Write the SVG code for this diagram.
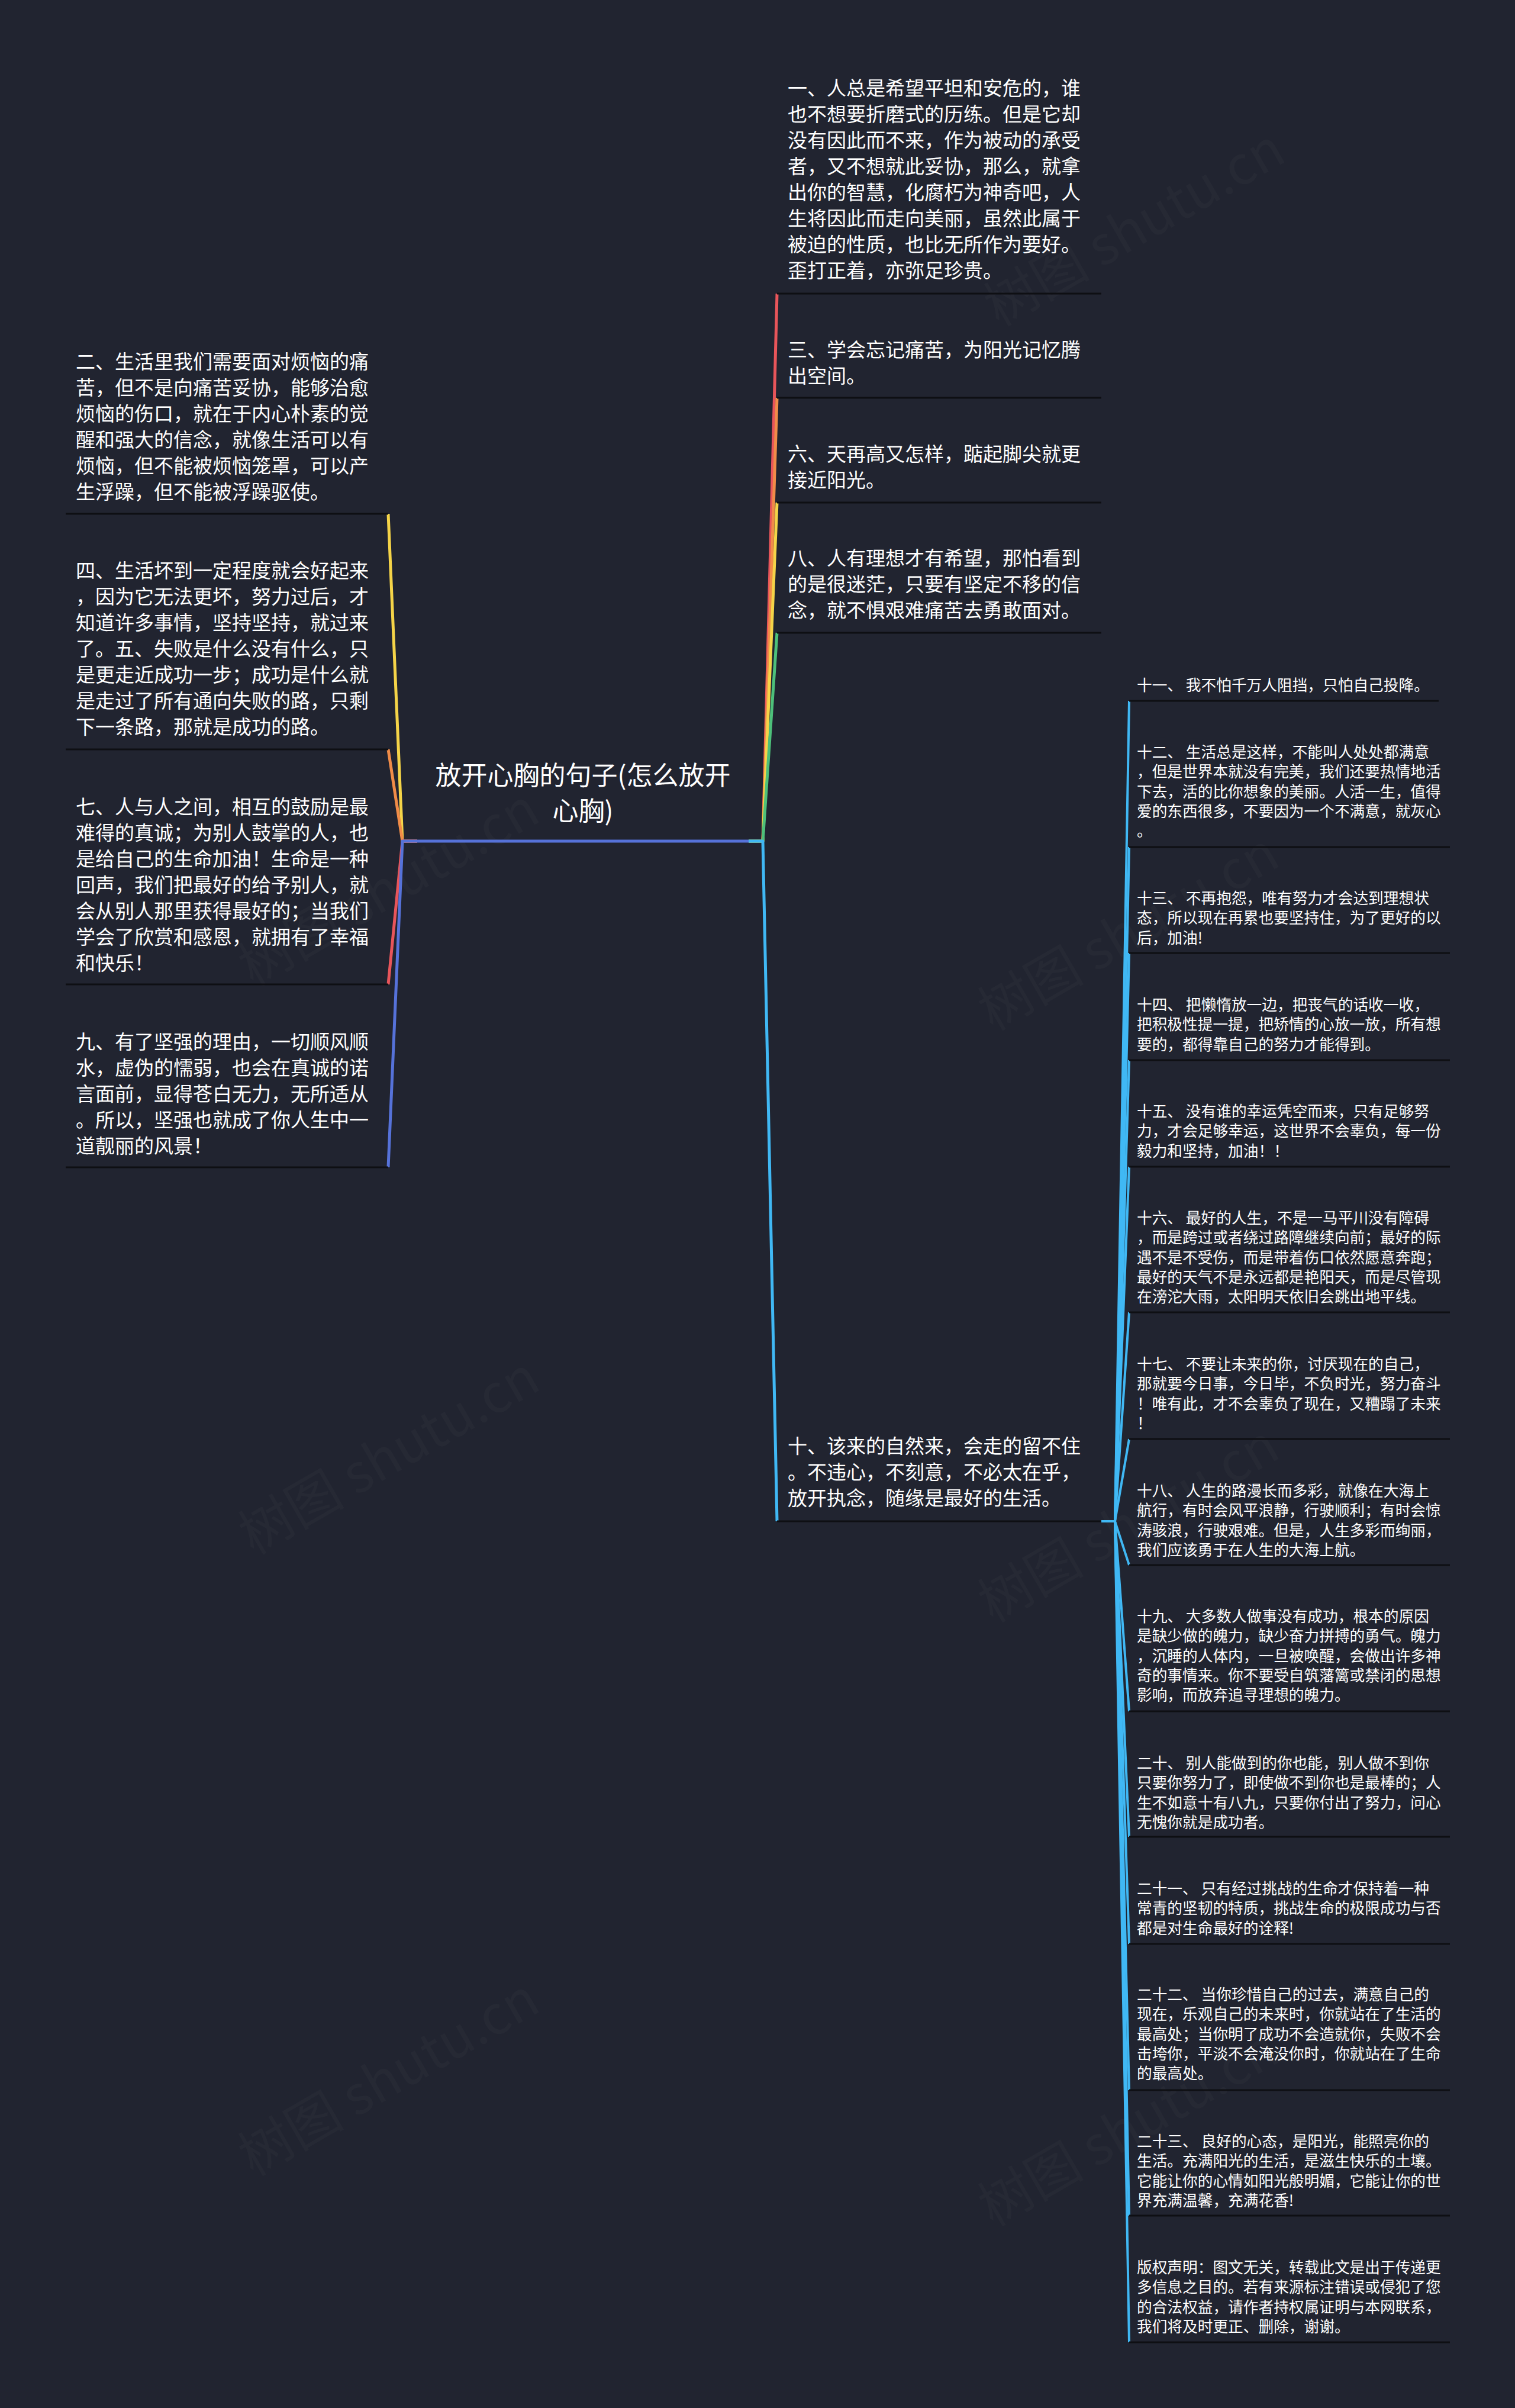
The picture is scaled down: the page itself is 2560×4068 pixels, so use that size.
<svg xmlns="http://www.w3.org/2000/svg" width="2560" height="4068" viewBox="0 0 2560 4068">
<style>
.t{font-family:"Noto Sans CJK SC","Noto Sans",sans-serif;fill:#ffffff}
.m{font-size:33px}
.s{font-size:25.7px}
.c{font-size:44px}
.u{stroke:#0e0f13;stroke-width:3;fill:none}
.k{fill:none;stroke-width:5;stroke-linejoin:round}
.ks{fill:none;stroke:#40b8f4;stroke-width:4;stroke-linejoin:round}
.w{font-family:"Noto Sans CJK SC","Noto Sans",sans-serif;font-size:90px;fill:#ffffff;fill-opacity:0.025}
</style>
<rect x="0" y="0" width="2560" height="4068" fill="#212430"/>
<g id="watermarks">
<text class="w" x="660" y="1530" text-anchor="middle" transform="rotate(-30 660 1505)">树图 shutu.cn</text>
<text class="w" x="660" y="2490" text-anchor="middle" transform="rotate(-30 660 2464)">树图 shutu.cn</text>
<text class="w" x="660" y="3540" text-anchor="middle" transform="rotate(-30 660 3515)">树图 shutu.cn</text>
<text class="w" x="1920" y="415" text-anchor="middle" transform="rotate(-30 1920 390)">树图 shutu.cn</text>
<text class="w" x="1910" y="1605" text-anchor="middle" transform="rotate(-30 1910 1580)">树图 shutu.cn</text>
<text class="w" x="1910" y="2605" text-anchor="middle" transform="rotate(-30 1910 2580)">树图 shutu.cn</text>
<text class="w" x="1910" y="3625" text-anchor="middle" transform="rotate(-30 1910 3600)">树图 shutu.cn</text>
</g>
<g id="connectors">
<path class="k" stroke="#5672d9" d="M680 1421 H1289"/>
<path class="k" stroke="#e8555a" d="M1265 1421 H1289 L1313 496"/>
<path class="k" stroke="#f08c48" d="M1265 1421 H1289 L1313 672"/>
<path class="k" stroke="#f5d448" d="M1265 1421 H1289 L1313 849"/>
<path class="k" stroke="#4dc07a" d="M1265 1421 H1289 L1313 1069"/>
<path class="k" stroke="#f5d448" d="M705 1421 H680 L656 868"/>
<path class="k" stroke="#f08c48" d="M705 1421 H680 L656 1266"/>
<path class="k" stroke="#e8555a" d="M705 1421 H680 L656 1663"/>
<path class="k" stroke="#5672d9" d="M705 1421 H680 L656 1972"/>
<path class="k" stroke="#40b8f4" d="M1265 1421 H1289 L1313 2570"/>
<path class="ks" d="M1861 2570 H1884 L1908 1184"/>
<path class="ks" d="M1861 2570 H1884 L1908 1431"/>
<path class="ks" d="M1861 2570 H1884 L1908 1610"/>
<path class="ks" d="M1861 2570 H1884 L1908 1791"/>
<path class="ks" d="M1861 2570 H1884 L1908 1971"/>
<path class="ks" d="M1861 2570 H1884 L1908 2217"/>
<path class="ks" d="M1861 2570 H1884 L1908 2431"/>
<path class="ks" d="M1861 2570 H1884 L1908 2644"/>
<path class="ks" d="M1861 2570 H1884 L1908 2891"/>
<path class="ks" d="M1861 2570 H1884 L1908 3103"/>
<path class="ks" d="M1861 2570 H1884 L1908 3284"/>
<path class="ks" d="M1861 2570 H1884 L1908 3531"/>
<path class="ks" d="M1861 2570 H1884 L1908 3743"/>
<path class="ks" d="M1861 2570 H1884 L1908 3957"/>
</g>
<g id="center">
<text class="t c" text-anchor="middle"><tspan x="985" y="1326">放开心胸的句子(怎么放开</tspan><tspan x="985" y="1386">心胸)</tspan></text>
</g>
<g id="n1">
<path class="u" d="M1313 496 H1861"/>
<text class="t m"><tspan x="1331" y="161">一、人总是希望平坦和安危的，谁</tspan><tspan x="1331" dy="44">也不想要折磨式的历练。但是它却</tspan><tspan x="1331" dy="44">没有因此而不来，作为被动的承受</tspan><tspan x="1331" dy="44">者，又不想就此妥协，那么，就拿</tspan><tspan x="1331" dy="44">出你的智慧，化腐朽为神奇吧，人</tspan><tspan x="1331" dy="44">生将因此而走向美丽，虽然此属于</tspan><tspan x="1331" dy="44">被迫的性质，也比无所作为要好。</tspan><tspan x="1331" dy="44">歪打正着，亦弥足珍贵。</tspan></text>
</g>
<g id="n3">
<path class="u" d="M1313 672 H1861"/>
<text class="t m"><tspan x="1331" y="603">三、学会忘记痛苦，为阳光记忆腾</tspan><tspan x="1331" dy="44">出空间。</tspan></text>
</g>
<g id="n6">
<path class="u" d="M1313 849 H1861"/>
<text class="t m"><tspan x="1331" y="779">六、天再高又怎样，踮起脚尖就更</tspan><tspan x="1331" dy="44">接近阳光。</tspan></text>
</g>
<g id="n8">
<path class="u" d="M1313 1069 H1861"/>
<text class="t m"><tspan x="1331" y="955">八、人有理想才有希望，那怕看到</tspan><tspan x="1331" dy="44">的是很迷茫，只要有坚定不移的信</tspan><tspan x="1331" dy="44">念，就不惧艰难痛苦去勇敢面对。</tspan></text>
</g>
<g id="n10">
<path class="u" d="M1313 2570 H1861"/>
<text class="t m"><tspan x="1331" y="2455">十、该来的自然来，会走的留不住</tspan><tspan x="1331" dy="44">。不违心，不刻意，不必太在乎，</tspan><tspan x="1331" dy="44">放开执念，随缘是最好的生活。</tspan></text>
</g>
<g id="n2">
<path class="u" d="M111 868 H656"/>
<text class="t m"><tspan x="128" y="623">二、生活里我们需要面对烦恼的痛</tspan><tspan x="128" dy="44">苦，但不是向痛苦妥协，能够治愈</tspan><tspan x="128" dy="44">烦恼的伤口，就在于内心朴素的觉</tspan><tspan x="128" dy="44">醒和强大的信念，就像生活可以有</tspan><tspan x="128" dy="44">烦恼，但不能被烦恼笼罩，可以产</tspan><tspan x="128" dy="44">生浮躁，但不能被浮躁驱使。</tspan></text>
</g>
<g id="n4">
<path class="u" d="M111 1266 H656"/>
<text class="t m"><tspan x="128" y="976">四、生活坏到一定程度就会好起来</tspan><tspan x="128" dy="44">，因为它无法更坏，努力过后，才</tspan><tspan x="128" dy="44">知道许多事情，坚持坚持，就过来</tspan><tspan x="128" dy="44">了。五、失败是什么没有什么，只</tspan><tspan x="128" dy="44">是更走近成功一步；成功是什么就</tspan><tspan x="128" dy="44">是走过了所有通向失败的路，只剩</tspan><tspan x="128" dy="44">下一条路，那就是成功的路。</tspan></text>
</g>
<g id="n7">
<path class="u" d="M111 1663 H656"/>
<text class="t m"><tspan x="128" y="1375">七、人与人之间，相互的鼓励是最</tspan><tspan x="128" dy="44">难得的真诚；为别人鼓掌的人，也</tspan><tspan x="128" dy="44">是给自己的生命加油！生命是一种</tspan><tspan x="128" dy="44">回声，我们把最好的给予别人，就</tspan><tspan x="128" dy="44">会从别人那里获得最好的；当我们</tspan><tspan x="128" dy="44">学会了欣赏和感恩，就拥有了幸福</tspan><tspan x="128" dy="44">和快乐！</tspan></text>
</g>
<g id="n9">
<path class="u" d="M111 1972 H656"/>
<text class="t m"><tspan x="128" y="1772">九、有了坚强的理由，一切顺风顺</tspan><tspan x="128" dy="44">水，虚伪的懦弱，也会在真诚的诺</tspan><tspan x="128" dy="44">言面前，显得苍白无力，无所适从</tspan><tspan x="128" dy="44">。所以，坚强也就成了你人生中一</tspan><tspan x="128" dy="44">道靓丽的风景！</tspan></text>
</g>
<g id="n11">
<path class="u" d="M1908 1184 H2431"/>
<text class="t s"><tspan x="1921" y="1167">十一、 我不怕千万人阻挡，只怕自己投降。</tspan></text>
</g>
<g id="n12">
<path class="u" d="M1908 1431 H2450"/>
<text class="t s"><tspan x="1921" y="1280">十二、 生活总是这样，不能叫人处处都满意</tspan><tspan x="1921" dy="33.3">，但是世界本就没有完美，我们还要热情地活</tspan><tspan x="1921" dy="33.3">下去，活的比你想象的美丽。人活一生，值得</tspan><tspan x="1921" dy="33.3">爱的东西很多，不要因为一个不满意，就灰心</tspan><tspan x="1921" dy="33.3">。</tspan></text>
</g>
<g id="n13">
<path class="u" d="M1908 1610 H2450"/>
<text class="t s"><tspan x="1921" y="1527">十三、 不再抱怨，唯有努力才会达到理想状</tspan><tspan x="1921" dy="33.3">态，所以现在再累也要坚持住，为了更好的以</tspan><tspan x="1921" dy="33.3">后，加油!</tspan></text>
</g>
<g id="n14">
<path class="u" d="M1908 1791 H2450"/>
<text class="t s"><tspan x="1921" y="1707">十四、 把懒惰放一边，把丧气的话收一收，</tspan><tspan x="1921" dy="33.3">把积极性提一提，把矫情的心放一放，所有想</tspan><tspan x="1921" dy="33.3">要的，都得靠自己的努力才能得到。</tspan></text>
</g>
<g id="n15">
<path class="u" d="M1908 1971 H2450"/>
<text class="t s"><tspan x="1921" y="1887">十五、 没有谁的幸运凭空而来，只有足够努</tspan><tspan x="1921" dy="33.3">力，才会足够幸运，这世界不会辜负，每一份</tspan><tspan x="1921" dy="33.3">毅力和坚持，加油！！</tspan></text>
</g>
<g id="n16">
<path class="u" d="M1908 2217 H2450"/>
<text class="t s"><tspan x="1921" y="2067">十六、 最好的人生，不是一马平川没有障碍</tspan><tspan x="1921" dy="33.3">，而是跨过或者绕过路障继续向前；最好的际</tspan><tspan x="1921" dy="33.3">遇不是不受伤，而是带着伤口依然愿意奔跑；</tspan><tspan x="1921" dy="33.3">最好的天气不是永远都是艳阳天，而是尽管现</tspan><tspan x="1921" dy="33.3">在滂沱大雨，太阳明天依旧会跳出地平线。</tspan></text>
</g>
<g id="n17">
<path class="u" d="M1908 2431 H2450"/>
<text class="t s"><tspan x="1921" y="2314">十七、 不要让未来的你，讨厌现在的自己，</tspan><tspan x="1921" dy="33.3">那就要今日事，今日毕，不负时光，努力奋斗</tspan><tspan x="1921" dy="33.3">！唯有此，才不会辜负了现在，又糟蹋了未来</tspan><tspan x="1921" dy="33.3">！</tspan></text>
</g>
<g id="n18">
<path class="u" d="M1908 2644 H2450"/>
<text class="t s"><tspan x="1921" y="2528">十八、 人生的路漫长而多彩，就像在大海上</tspan><tspan x="1921" dy="33.3">航行，有时会风平浪静，行驶顺利；有时会惊</tspan><tspan x="1921" dy="33.3">涛骇浪，行驶艰难。但是，人生多彩而绚丽，</tspan><tspan x="1921" dy="33.3">我们应该勇于在人生的大海上航。</tspan></text>
</g>
<g id="n19">
<path class="u" d="M1908 2891 H2450"/>
<text class="t s"><tspan x="1921" y="2740">十九、 大多数人做事没有成功，根本的原因</tspan><tspan x="1921" dy="33.3">是缺少做的魄力，缺少奋力拼搏的勇气。魄力</tspan><tspan x="1921" dy="33.3">，沉睡的人体内，一旦被唤醒，会做出许多神</tspan><tspan x="1921" dy="33.3">奇的事情来。你不要受自筑藩篱或禁闭的思想</tspan><tspan x="1921" dy="33.3">影响，而放弃追寻理想的魄力。</tspan></text>
</g>
<g id="n20">
<path class="u" d="M1908 3103 H2450"/>
<text class="t s"><tspan x="1921" y="2988">二十、 别人能做到的你也能，别人做不到你</tspan><tspan x="1921" dy="33.3">只要你努力了，即使做不到你也是最棒的；人</tspan><tspan x="1921" dy="33.3">生不如意十有八九，只要你付出了努力，问心</tspan><tspan x="1921" dy="33.3">无愧你就是成功者。</tspan></text>
</g>
<g id="n21">
<path class="u" d="M1908 3284 H2450"/>
<text class="t s"><tspan x="1921" y="3200">二十一、 只有经过挑战的生命才保持着一种</tspan><tspan x="1921" dy="33.3">常青的坚韧的特质，挑战生命的极限成功与否</tspan><tspan x="1921" dy="33.3">都是对生命最好的诠释!</tspan></text>
</g>
<g id="n22">
<path class="u" d="M1908 3531 H2450"/>
<text class="t s"><tspan x="1921" y="3379">二十二、 当你珍惜自己的过去，满意自己的</tspan><tspan x="1921" dy="33.3">现在，乐观自己的未来时，你就站在了生活的</tspan><tspan x="1921" dy="33.3">最高处；当你明了成功不会造就你，失败不会</tspan><tspan x="1921" dy="33.3">击垮你，平淡不会淹没你时，你就站在了生命</tspan><tspan x="1921" dy="33.3">的最高处。</tspan></text>
</g>
<g id="n23">
<path class="u" d="M1908 3743 H2450"/>
<text class="t s"><tspan x="1921" y="3627">二十三、 良好的心态，是阳光，能照亮你的</tspan><tspan x="1921" dy="33.3">生活。充满阳光的生活，是滋生快乐的土壤。</tspan><tspan x="1921" dy="33.3">它能让你的心情如阳光般明媚，它能让你的世</tspan><tspan x="1921" dy="33.3">界充满温馨，充满花香!</tspan></text>
</g>
<g id="copyright">
<path class="u" d="M1908 3957 H2450"/>
<text class="t s"><tspan x="1921" y="3840">版权声明：图文无关，转载此文是出于传递更</tspan><tspan x="1921" dy="33.3">多信息之目的。若有来源标注错误或侵犯了您</tspan><tspan x="1921" dy="33.3">的合法权益，请作者持权属证明与本网联系，</tspan><tspan x="1921" dy="33.3">我们将及时更正、删除，谢谢。</tspan></text>
</g>
</svg>
